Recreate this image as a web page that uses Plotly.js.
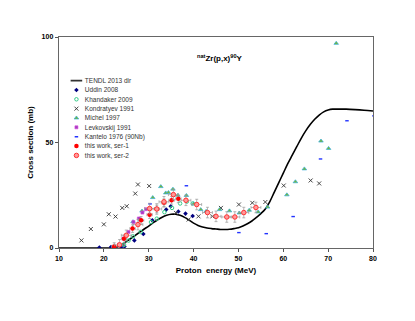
<!DOCTYPE html>
<html>
<head>
<meta charset="utf-8">
<script src="https://cdn.plot.ly/plotly-3.0.1.min.js"></script>
<style>
  html, body { margin: 0; padding: 0; background: #fff; }
  #plot { width: 415px; height: 321px; }
</style>
</head>
<body>
<div id="plot"></div>
<script>
// TENDL 2013 theoretical curve
const tendlX = [10, 15, 20, 22, 23, 24, 25, 26, 27, 28, 29, 30, 31, 32, 33, 34, 35, 36, 37, 38, 39, 40,
    41, 42, 43, 44, 45, 46, 47, 48, 49, 50, 51, 52, 53, 54, 55, 56, 57, 58, 59, 60, 61, 62, 63, 64,
    65, 66, 67, 68, 69, 70, 71, 72, 74, 76, 78, 80];
const tendlY = [0, 0, 0, 0.1, 0.5, 1.5, 3, 4.5, 6, 7.5, 9, 10.4, 12, 13.4, 14.6, 15.5, 16, 16, 15.5, 14.5, 13.2, 11.8,
    10.7, 10, 9.5, 9.2, 9, 8.8, 8.8, 8.9, 9.2, 9.6, 10.4, 11.5, 12.8, 14.5, 16.3, 18.5, 22, 26.5, 31, 35.5,
    40, 44, 48, 52, 55.5, 58.5, 61, 63, 64.5, 65.4, 65.8, 65.8, 65.8, 65.6, 65.3, 64.9];

const uddinX = [19, 21.6, 23.8, 24.6, 26.8, 28.8, 30.8, 33.9, 34.9, 36.6, 38.2, 39.8];
const uddinY = [0.2, 0.5, 0.3, 0.7, 3.6, 6.6, 13.1, 18.2, 19.8, 17.3, 16.3, 15.2];

const khandakerX = [24.5, 25.5, 26.5, 28.2, 30.5, 31.8, 33.5, 35.2, 37, 38.5, 39.8];
const khandakerY = [1.5, 3.5, 5.5, 7.6, 12.3, 13.9, 17, 19, 21.1, 22, 21.1];

const kondratyevX = [15, 17.1, 20, 21.1, 22.6, 24.1, 25.1, 27, 27.6, 30.1, 36.1, 38.9, 41.1, 44.2, 46.1,
    50.1, 53.1, 56, 60.1, 66.1, 68];
const kondratyevY = [3.6, 9, 11.2, 16, 14.9, 19, 19.8, 25.8, 30.1, 29.4, 16.6, 13.5, 15, 15, 19,
    20.6, 21.4, 21.8, 29.6, 32, 30.6];

const michelX = [26.5, 28.5, 30.9, 32.7, 33.8, 34.4, 35.4, 36.5, 38.4, 40, 41.6, 42.8, 45.8, 48, 50.2,
    52.4, 54.4, 56.5, 60.8, 62.7, 64.7, 68.4, 70.1, 71.8];
const michelY = [12.5, 17.5, 23.9, 29.1, 26.1, 26.3, 27.9, 25, 24.9, 21, 18.2, 17.4, 18.2, 17.6, 16.6,
    17.9, 17.1, 19.4, 25.2, 31.4, 37.5, 50.7, 47.2, 97];

const levkovskijX = [23.4, 24.4, 25.5, 26.6, 27.8, 28.6, 29.4];
const levkovskijY = [1.6, 4.5, 7.6, 12.3, 14, 16.8, 18.4];

const kanteloX = [30.3, 38.4, 50.1, 56.2, 62.2, 68.3, 74.2, 80.2];
const kanteloY = [20.9, 29.5, 7.3, 6.8, 14.9, 42.2, 60.3, 62.6];

const ser1X = [22.3, 24.5, 26.4, 28.3, 30.2, 31.8, 33.4, 35.1, 36.6];
const ser1Y = [0.7, 4.4, 9.2, 13.1, 15.8, 18.5, 21.4, 22.6, 23.3];

const ser2X = [23.5, 25, 27.6, 30.2, 31.8, 33.4, 35.5, 38.3, 40.7, 43.1, 45, 47.4, 49.2, 51.2, 53.9];
const ser2Y = [1.5, 6, 11.1, 18.7, 18.5, 21.9, 25.3, 22.6, 20.6, 16.8, 15, 14.7, 14.7, 16.8, 19.2];

const legendNames = ['TENDL 2013 dir', 'Uddin 2008', 'Khandaker 2009', 'Kondratyev 1991', 'Michel 1997',
    'Levkovskij 1991', 'Kantelo 1976 (90Nb)', 'this work, ser-1', 'this work, ser-2'];

const styles = [
    null,
    { symbol: 'diamond', size: 3.5, color: '#000080' },
    { symbol: 'circle-open', size: 3.5, color: '#33cc88', line: { width: 1, color: '#33cc88' } },
    { symbol: 'x-thin', size: 4, color: '#333', line: { width: 0.9, color: '#333' } },
    { symbol: 'triangle-up', size: 4, color: '#77b833', line: { width: 0.7, color: '#33aadd' } },
    { symbol: 'square', size: 3, color: '#a040c0', line: { width: 0.6, color: '#dd44dd' } },
    { symbol: 'line-ew', size: 2.5, color: '#2233ff', line: { width: 1.4, color: '#2233ff' } },
    { symbol: 'circle', size: 4.5, color: '#ff0000' },
    { symbol: 'circle', size: 4.5, color: '#ff9999', line: { width: 1, color: '#ff3333' } }
];

const errStyle = { type: 'constant', color: '#999', thickness: 0.7, width: 1.5 };

const traces = [
    { x: tendlX, y: tendlY, mode: 'lines', line: { color: '#000', width: 1.6, shape: 'spline' } },
    { x: uddinX, y: uddinY, mode: 'markers', marker: styles[1] },
    { x: khandakerX, y: khandakerY, mode: 'markers', marker: styles[2] },
    { x: kondratyevX, y: kondratyevY, mode: 'markers', marker: styles[3] },
    { x: michelX, y: michelY, mode: 'markers', marker: styles[4] },
    { x: levkovskijX, y: levkovskijY, mode: 'markers', marker: styles[5] },
    { x: kanteloX, y: kanteloY, mode: 'markers', marker: styles[6] },
    { x: ser1X, y: ser1Y, mode: 'markers', marker: styles[7],
      error_y: Object.assign({ value: 1.8 }, errStyle), error_x: Object.assign({ value: 0.6 }, errStyle) },
    { x: ser2X, y: ser2Y, mode: 'markers', marker: styles[8],
      error_y: Object.assign({ value: 2.5 }, errStyle), error_x: Object.assign({ value: 1.1 }, errStyle) }
].map(t => Object.assign(t, { type: 'scatter', showlegend: false, hoverinfo: 'skip' }));

// hand-built legend: one key per row on a small category axis
legendNames.forEach((name, i) => {
    if (i === 0) {
        traces.push({ type: 'scatter', x: [-0.9, 0.9], y: [name, name], mode: 'lines',
            line: { color: '#333', width: 1.6 }, xaxis: 'x2', yaxis: 'y2', showlegend: false, hoverinfo: 'skip' });
    } else {
        traces.push({ type: 'scatter', x: [0], y: [name], mode: 'markers', marker: styles[i],
            xaxis: 'x2', yaxis: 'y2', showlegend: false, hoverinfo: 'skip' });
    }
});

const tickFont = { family: 'Liberation Sans, Arial, sans-serif', size: 7, color: '#000', weight: 'bold' };

const layout = {
    width: 415,
    height: 321,
    margin: { l: 59, r: 42, t: 37, b: 73 },
    paper_bgcolor: 'white',
    plot_bgcolor: 'white',
    showlegend: false,
    xaxis: {
        range: [10, 80], dtick: 10, ticks: 'outside', ticklen: 3, tickcolor: '#555',
        showline: true, linecolor: '#666', linewidth: 1.3, mirror: true,
        showgrid: false, zeroline: false, tickfont: tickFont,
        title: { text: 'Proton  energy (MeV)', standoff: 6,
                 font: { family: 'Liberation Sans, Arial, sans-serif', size: 8, color: '#000', weight: 'bold' } }
    },
    yaxis: {
        range: [0, 100], dtick: 50, ticks: 'outside', ticklen: 3, tickcolor: '#555',
        showline: true, linecolor: '#666', linewidth: 1.3, mirror: true,
        showgrid: false, zeroline: false, tickfont: tickFont,
        title: { text: 'Cross section (mb)', standoff: 6,
                 font: { family: 'Liberation Sans, Arial, sans-serif', size: 8, color: '#000', weight: 'bold' } }
    },
    xaxis2: {
        domain: [0.035, 0.076], range: [-1, 1], anchor: 'y2',
        visible: false, fixedrange: true
    },
    yaxis2: {
        domain: [0.404, 0.814], anchor: 'x2', side: 'right',
        type: 'category', categoryorder: 'array', categoryarray: legendNames,
        autorange: 'reversed', showline: false, showgrid: false, zeroline: false,
        ticks: '', ticklabelstandoff: 1,
        tickfont: { family: 'Liberation Sans, Arial, sans-serif', size: 6.5, color: '#333' }
    },
    annotations: [{
        xref: 'paper', yref: 'paper', x: 0.513, y: 0.934, showarrow: false,
        text: '<sup>nat</sup>Zr(p,x)<sup>90</sup>Y',
        font: { family: 'Liberation Sans, Arial, sans-serif', size: 8, color: '#000', weight: 'bold' }
    }]
};

Plotly.newPlot('plot', traces, layout, { displayModeBar: false, staticPlot: true });
</script>
</body>
</html>
